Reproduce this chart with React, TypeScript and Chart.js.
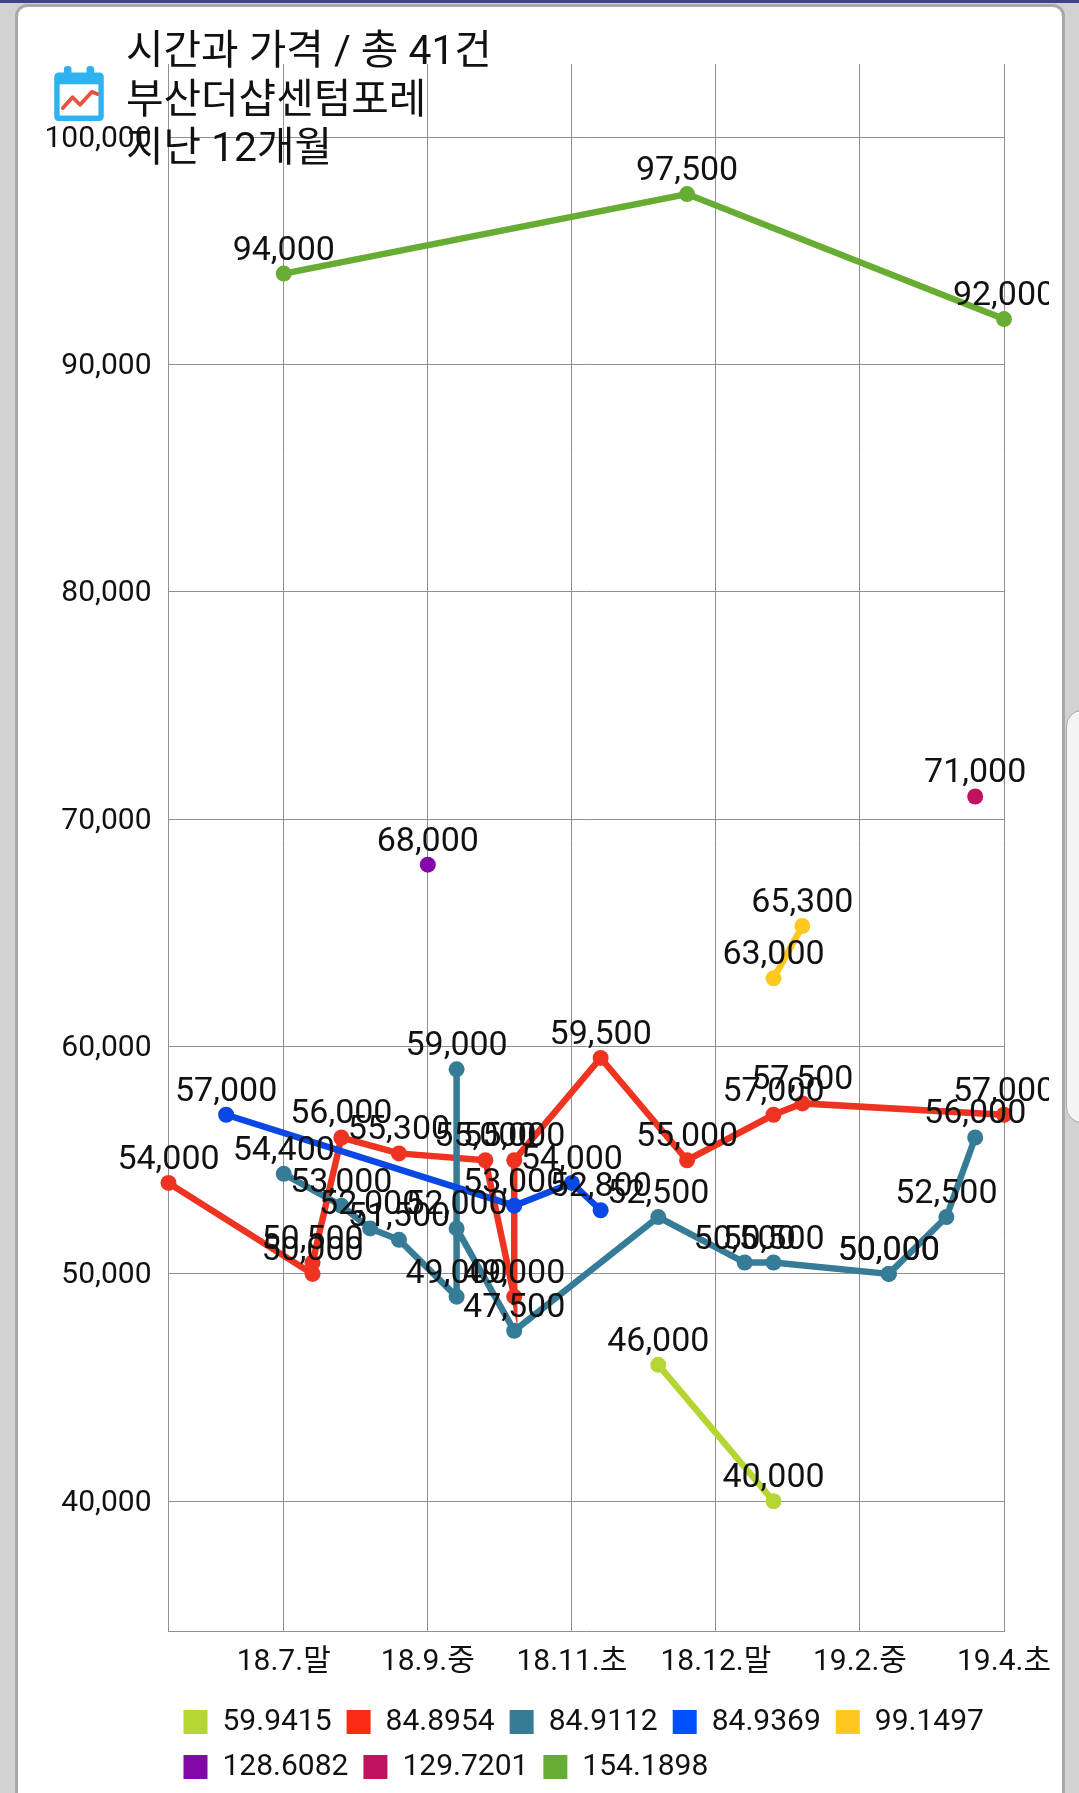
import React, { useEffect, useRef } from "react";
import { Chart, registerables } from "chart.js";

Chart.register(...registerables);

const xTickPositions = [4, 9, 14, 19, 24, 29];
const xTickLabels = ["18.7.말", "18.9.중", "18.11.초", "18.12.말", "19.2.중", "19.4.초"];
const yTickValues = [40000, 50000, 60000, 70000, 80000, 90000, 100000];

const titleLines = ["시간과 가격 / 총 41건", "부산더샵센텀포레", "지난 12개월"];

const seriesNames = ["59.9415", "84.8954", "84.9112", "84.9369", "99.1497", "128.6082", "129.7201", "154.1898"];
const seriesColors = ["#b5d632", "#ee3420", "#367c97", "#0a48e6", "#ffc81e", "#8208a8", "#c0125f", "#67ad33"];
const legendColors = ["#b5d632", "#fb2a14", "#367c97", "#0050ff", "#ffc81e", "#8208a8", "#c0125f", "#67ad33"];

const limeX = [17, 21];
const limeY = [46000, 40000];
const redX = [0, 5, 5, 6, 8, 11, 12, 12, 15, 18, 21, 22, 29];
const redY = [54000, 50000, 50500, 56000, 55300, 55000, 49000, 55000, 59500, 55000, 57000, 57500, 57000];
const tealX = [4, 6, 7, 8, 10, 10, 10, 12, 17, 20, 21, 25, 25, 27, 28];
const tealY = [54400, 53000, 52000, 51500, 49000, 59000, 52000, 47500, 52500, 50500, 50500, 50000, 50000, 52500, 56000];
const blueX = [2, 12, 14, 15];
const blueY = [57000, 53000, 54000, 52800];
const yellowX = [21, 22];
const yellowY = [63000, 65300];
const purpleX = [9];
const purpleY = [68000];
const magentaX = [28];
const magentaY = [71000];
const greenX = [4, 18, 29];
const greenY = [94000, 97500, 92000];

const seriesXs = [limeX, redX, tealX, blueX, yellowX, purpleX, magentaX, greenX];
const seriesYs = [limeY, redY, tealY, blueY, yellowY, purpleY, magentaY, greenY];

const FONT = "Roboto, 'Noto Sans CJK KR', sans-serif";

const valueLabels = {
  id: "valueLabels",
  afterDatasetsDraw(chart: any) {
    const ctx = chart.ctx;
    ctx.save();
    ctx.beginPath();
    ctx.rect(0, 0, 1049, 1793);
    ctx.clip();
    ctx.font = `34px ${FONT}`;
    ctx.fillStyle = "#111";
    ctx.textAlign = "center";
    ctx.textBaseline = "alphabetic";
    chart.data.datasets.forEach((ds: any, i: number) => {
      chart.getDatasetMeta(i).data.forEach((pt: any, j: number) => {
        ctx.fillText(ds.data[j].y.toLocaleString("en-US"), pt.x, pt.y - 14);
      });
    });
    ctx.restore();
  },
};

export default function App() {
  const ref = useRef<HTMLCanvasElement>(null);
  useEffect(() => {
    document.body.style.margin = "0";
    document.body.style.background = "#d2d2d2";
    const chart = new Chart(ref.current as HTMLCanvasElement, {
      type: "line",
      data: {
        datasets: seriesNames.map((name, i) => ({
          label: name,
          data: seriesXs[i].map((x, j) => ({ x, y: seriesYs[i][j] })),
          borderColor: seriesColors[i],
          backgroundColor: legendColors[i],
          pointBackgroundColor: seriesColors[i],
          pointBorderColor: seriesColors[i],
          borderWidth: 6.5,
          pointRadius: 8,
          pointBorderWidth: 0,
          tension: 0,
          clip: false as any,
          order: seriesNames.length - i,
        })),
      },
      plugins: [valueLabels],
      options: {
        responsive: false,
        animation: false,
        layout: { padding: { left: 0, right: 75, top: 64, bottom: 8 } },
        plugins: {
          title: { display: false },
          tooltip: { enabled: false },
          legend: {
            display: true,
            position: "bottom",
            align: "start",
            fullSize: false,
            labels: {
              boxWidth: 24,
              boxHeight: 24,
              padding: 15,
              color: "#111",
              font: { family: FONT, size: 30, lineHeight: 1.15 },
              generateLabels: (c: any) => {
                const items = (Chart.defaults.plugins.legend.labels as any).generateLabels(c);
                items.forEach((it: any) => {
                  it.lineWidth = 0;
                  it.strokeStyle = "transparent";
                });
                return items.sort((a: any, b: any) => a.datasetIndex - b.datasetIndex);
              },
            },
          },
        },
        scales: {
          x: {
            type: "linear",
            min: 0,
            max: 29,
            afterBuildTicks: (axis: any) => {
              axis.ticks = xTickPositions.map((value) => ({ value }));
            },
            afterFit: (axis: any) => {
              axis.height = 60.5;
            },
            grid: { color: "#909090", lineWidth: 1, drawTicks: false },
            border: { color: "#909090", width: 1 },
            ticks: {
              autoSkip: false,
              maxRotation: 0,
              minRotation: 0,
              padding: 13,
              color: "#111",
              font: { family: FONT, size: 30 },
              callback: (v: any) => xTickLabels[xTickPositions.indexOf(v)] ?? "",
            },
          },
          y: {
            type: "linear",
            min: 34270,
            max: 103220,
            afterBuildTicks: (axis: any) => {
              axis.ticks = yTickValues.map((value) => ({ value }));
            },
            afterFit: (axis: any) => {
              axis.width = 168.5;
            },
            grid: { color: "#909090", lineWidth: 1, drawTicks: false },
            border: { color: "#909090", width: 1 },
            ticks: {
              padding: 17,
              labelOffset: 2,
              color: "#111",
              font: { family: FONT, size: 30 },
              callback: (v: any) => Number(v).toLocaleString("en-US"),
            },
          },
        },
      },
    } as any);
    return () => chart.destroy();
  }, []);

  return (
    <div style={{ position: "relative", width: 1079, height: 1793, overflow: "hidden", background: "#d2d2d2" }}>
      <div style={{ position: "absolute", left: 0, top: 0, width: 1079, height: 3, background: "#3f4290" }} />
      <div
        style={{
          position: "absolute",
          left: 15,
          top: 4,
          width: 1044,
          height: 1840,
          background: "#fff",
          border: "3px solid #a9a9a9",
          borderRadius: 12,
        }}
      />
      <div
        style={{
          position: "absolute",
          left: 1066,
          top: 710,
          width: 40,
          height: 411,
          background: "#f4f4f4",
          border: "1px solid #aaa",
          borderRadius: 16,
        }}
      />
      <canvas ref={ref} width={1079} height={1800} style={{ position: "absolute", left: 0, top: 0, display: "block" }} />
      <svg style={{ position: "absolute", left: 51, top: 66, filter: "blur(0.6px)" }} width="56" height="56" viewBox="0 0 52 52">
        <rect x="12" y="0" width="7" height="10" rx="3" fill="#2fb2f2" />
        <rect x="33" y="0" width="7" height="10" rx="3" fill="#2fb2f2" />
        <rect x="3" y="6" width="46" height="45" rx="4" fill="#2fb2f2" />
        <rect x="8" y="17" width="36" height="29" fill="#fff" />
        <polyline
          points="11,39 20,29 27,36 38,24 43,26"
          fill="none"
          stroke="#e8503f"
          strokeWidth="3.5"
          strokeLinejoin="round"
          strokeLinecap="round"
        />
      </svg>
      <div
        style={{
          position: "absolute",
          left: 126,
          top: 26,
          fontFamily: FONT,
          fontSize: 40.8,
          lineHeight: "48.5px",
          color: "#111",
          whiteSpace: "nowrap",
        }}
      >
        {titleLines.map((line) => (
          <div key={line}>{line}</div>
        ))}
      </div>
    </div>
  );
}
